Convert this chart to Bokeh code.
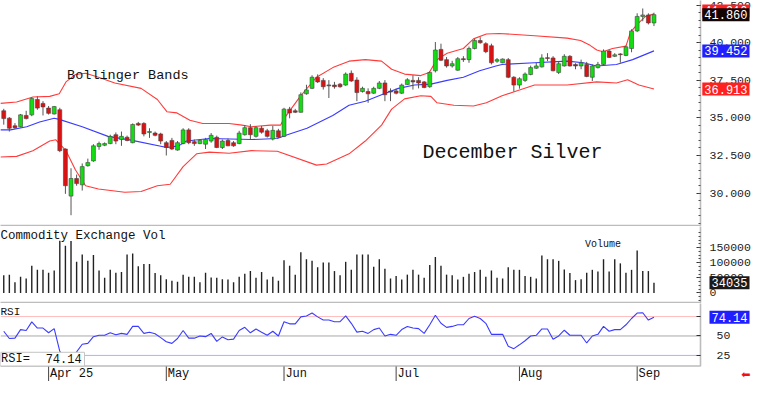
from bokeh.plotting import figure
from bokeh.models import Range1d, FixedTicker, NumeralTickFormatter, Label, Span, BoxAnnotation, ColumnDataSource
from bokeh.layouts import column
from bokeh.embed import file_html
from bokeh.resources import INLINE

# ---------------- data ----------------
opens = [35.47, 34.98, 34.47, 34.41, 35.16, 35.20, 36.22, 35.96, 35.65, 35.26,
         35.54, 32.93, 29.80, 30.97, 30.55, 31.82, 32.14, 33.10, 33.18, 33.29,
         33.88, 33.56, 33.71, 33.35, 34.63, 34.63, 34.03, 33.99, 33.93, 33.35,
         33.50, 32.86, 33.29, 34.20, 33.42, 33.29, 33.25, 33.46, 33.71, 33.03,
         33.50, 33.35, 33.29, 33.88, 34.35, 33.77, 34.31, 34.14, 33.60, 34.14,
         33.77, 35.58, 35.47, 35.37, 36.60, 36.96, 37.70, 37.49, 37.19, 37.18,
         37.24, 37.18, 37.96, 37.51, 36.75, 36.75, 36.64, 36.96, 37.32, 36.78,
         36.79, 36.64, 37.21, 37.49, 37.49, 37.39, 37.07, 38.13, 39.55, 38.87,
         38.45, 38.17, 38.93, 38.87, 39.61, 40.14, 39.93, 39.79, 38.77, 38.66,
         38.87, 37.70, 37.18, 37.49, 37.88, 38.30, 38.39, 39.00, 38.98, 38.02,
         38.45, 39.09, 38.55, 38.45, 38.55, 37.70, 38.34, 38.55, 39.44, 39.09,
         39.25, 39.15, 39.61, 40.78, 41.74, 41.84, 41.31]
highs = [35.60, 35.05, 34.65, 35.26, 35.47, 36.37, 36.43, 36.11, 35.79, 35.79,
         35.67, 32.97, 31.65, 31.23, 31.97, 32.29, 33.25, 33.42, 33.37, 33.88,
         34.03, 34.09, 33.82, 34.63, 34.73, 34.71, 34.31, 34.09, 34.01, 33.46,
         33.67, 33.46, 34.31, 34.31, 33.56, 33.56, 33.67, 33.99, 33.82, 33.56,
         33.63, 33.46, 34.14, 34.52, 34.58, 34.46, 34.46, 34.27, 34.46, 34.27,
         35.67, 35.73, 35.60, 36.69, 37.20, 37.83, 37.89, 37.64, 37.51, 37.39,
         37.32, 38.02, 38.15, 37.70, 37.07, 36.96, 37.07, 37.45, 37.51, 36.96,
         36.94, 37.28, 37.64, 37.83, 37.70, 37.45, 38.09, 40.04, 39.93, 39.04,
         38.79, 39.04, 39.10, 39.74, 40.25, 40.36, 40.03, 39.93, 38.98, 38.95,
         38.98, 37.77, 37.70, 38.02, 38.47, 38.66, 39.23, 39.30, 39.10, 38.72,
         39.23, 39.17, 38.63, 38.87, 38.72, 38.55, 38.72, 39.55, 39.52, 39.30,
         39.30, 39.81, 40.89, 41.95, 42.27, 41.95, 41.99]
lows = [34.55, 34.09, 34.27, 34.37, 34.90, 35.11, 35.54, 35.16, 35.22, 35.22,
        32.72, 29.95, 28.53, 30.49, 30.17, 31.76, 32.08, 32.88, 33.12, 33.25,
        33.25, 33.14, 33.44, 33.31, 34.46, 33.77, 33.67, 33.77, 33.25, 32.50,
        32.86, 32.82, 33.25, 33.25, 33.14, 33.25, 32.93, 33.35, 32.99, 32.93,
        33.12, 33.08, 33.25, 33.82, 33.56, 33.69, 33.95, 33.69, 33.50, 33.66,
        33.72, 34.97, 35.32, 35.35, 36.54, 36.91, 37.32, 36.88, 36.32, 36.94,
        37.00, 37.13, 37.39, 36.11, 36.68, 36.00, 36.59, 36.91, 36.11, 36.11,
        36.56, 36.59, 37.19, 36.88, 36.96, 36.97, 37.00, 38.02, 38.77, 38.34,
        38.34, 38.13, 38.72, 38.66, 39.55, 39.93, 39.30, 38.55, 38.66, 38.63,
        37.64, 36.75, 36.94, 37.39, 37.83, 38.25, 38.34, 38.77, 38.09, 37.91,
        38.41, 38.41, 38.23, 38.23, 37.70, 37.45, 38.28, 38.47, 38.98, 39.04,
        38.66, 39.10, 39.36, 40.70, 41.42, 41.21, 41.10]
closes = [34.95, 34.31, 34.35, 35.20, 34.95, 36.28, 35.65, 35.73, 35.30, 35.75,
          32.82, 30.49, 30.97, 30.63, 31.76, 32.03, 33.14, 33.29, 33.29, 33.77,
          33.46, 33.77, 33.50, 34.56, 34.52, 33.93, 34.09, 33.84, 33.46, 33.03,
          32.93, 33.35, 34.20, 33.35, 33.29, 33.50, 33.56, 33.84, 33.03, 33.46,
          33.14, 33.14, 33.99, 34.35, 33.88, 34.35, 34.05, 33.77, 34.17, 33.71,
          35.58, 35.33, 35.37, 36.54, 36.86, 37.70, 37.39, 37.07, 37.13, 37.07,
          37.07, 37.91, 37.45, 36.68, 36.96, 36.60, 36.96, 37.32, 36.54, 36.72,
          36.64, 37.18, 37.53, 37.39, 37.32, 37.02, 38.02, 39.51, 38.83, 38.45,
          38.60, 38.93, 38.87, 39.61, 40.14, 39.99, 39.40, 38.66, 38.87, 38.91,
          37.70, 37.18, 37.60, 37.91, 38.34, 38.45, 38.98, 38.95, 38.13, 38.60,
          39.09, 38.45, 38.45, 38.66, 37.75, 38.45, 38.55, 39.44, 39.02, 39.19,
          39.20, 39.72, 40.78, 41.74, 41.84, 41.31, 41.86]
volumes = [58300, 60500, 35000, 53200, 47800, 90100, 76400, 76400, 66900, 74200,
           172900, 156100, 172000, 102900, 127400, 106100, 125200, 74200, 50000, 76400,
           66900, 69100, 127400, 130600, 88200, 95600, 95600, 65900, 58300, 45500,
           40400, 37300, 60500, 53200, 53200, 35000, 66900, 51000, 50000, 45500,
           44600, 35000, 53200, 63700, 72300, 50000, 69100, 44600, 53200, 40400,
           108300, 90100, 60500, 134700, 111500, 106100, 85000, 101000, 101000, 72300,
           58300, 102900, 76400, 127400, 127400, 127400, 87000, 111500, 79600, 47800,
           56400, 44600, 60500, 76400, 60500, 50000, 92400, 118800, 90100, 60500,
           58300, 44600, 53200, 63700, 69100, 76400, 53200, 74200, 50000, 47800,
           85000, 76400, 76400, 56400, 53200, 47800, 124200, 111500, 111500, 106100,
           77400, 65900, 42400, 45500, 66900, 76400, 71000, 111500, 71000, 111500,
           97800, 66900, 76400, 140100, 72300, 72300, 34035]
rsi = [56.1, 46.7, 47.2, 58.2, 57.0, 68.1, 60.2, 60.2, 54.1, 59.5,
       30.3, 18.4, 21.4, 29.5, 39.3, 40.5, 49.1, 50.9, 50.9, 54.1,
       51.6, 53.3, 52.1, 62.3, 62.3, 53.3, 54.9, 52.8, 47.9, 42.6,
       40.5, 46.7, 57.0, 47.2, 47.2, 50.0, 49.1, 53.3, 43.0, 48.8,
       45.1, 45.9, 57.0, 61.1, 54.1, 59.0, 54.9, 50.9, 56.1, 50.0,
       68.4, 65.6, 65.6, 74.6, 75.8, 79.5, 74.6, 70.5, 70.5, 68.4,
       68.4, 75.8, 66.3, 54.9, 56.1, 53.3, 58.2, 60.2, 50.0, 52.1,
       50.9, 58.2, 62.3, 60.2, 59.5, 53.3, 64.4, 76.7, 66.3, 61.1,
       62.3, 64.4, 64.4, 72.5, 75.4, 72.5, 66.3, 52.1, 52.1, 52.1,
       36.9, 33.7, 38.6, 43.9, 50.0, 50.9, 59.0, 59.0, 45.9, 50.0,
       57.4, 50.9, 50.9, 50.9, 41.0, 50.0, 52.1, 62.3, 56.1, 58.2,
       58.2, 64.4, 72.5, 79.5, 79.9, 70.5, 74.14]

upper_x = [-0.6, 2.3, 5.2, 8.2, 9.9, 11.1, 12.8, 14.6, 16.9, 19.8,
           24.5, 27.4, 29.1, 30.9, 33.2, 35.5, 40.2, 42.5, 44.2, 47.6,
           49.4, 50.0, 52.9, 55.8, 58.7, 61.6, 64.5, 67.4, 69.2, 71.5,
           74.4, 75.9, 77.3, 79.1, 82.0, 83.8, 86.1, 88.4, 94.7, 100.5,
           102.9, 104.6, 105.8, 106.9, 108.6, 111.0, 111.8, 113.0, 114.5, 116.0]
upper = [35.96, 36.05, 36.39, 36.43, 36.60, 37.39, 37.88, 37.96, 37.70, 37.32,
         36.96, 36.22, 35.41, 35.33, 34.84, 34.63, 34.63, 34.52, 34.41, 34.52,
         34.52, 34.95, 36.43, 37.70, 38.34, 38.77, 38.87, 38.77, 38.23, 37.91,
         37.81, 38.02, 38.87, 39.30, 39.61, 40.25, 40.57, 40.61, 40.46, 40.30,
         40.14, 39.82, 39.51, 39.40, 39.61, 39.77, 40.68, 41.21, 41.74, 41.91]
mid_x = [-0.6, 1.2, 4.1, 6.4, 9.0, 9.9, 14.0, 18.6, 22.7, 29.1,
         31.2, 32.6, 36.7, 44.2, 48.8, 50.6, 54.1, 58.7, 61.6, 64.5,
         67.4, 70.4, 73.3, 76.2, 79.1, 82.0, 84.9, 87.8, 88.9, 94.7,
         100.5, 103.4, 105.8, 109.3, 112.2, 116.0]
mid = [34.20, 34.20, 34.41, 34.73, 34.98, 34.90, 34.41, 33.77, 33.52, 33.03,
       33.14, 33.46, 33.63, 33.56, 33.63, 33.88, 34.31, 35.16, 35.84, 36.11,
       36.54, 36.96, 37.18, 37.24, 37.49, 37.70, 38.13, 38.45, 38.55, 38.66,
       38.77, 38.66, 38.45, 38.55, 38.87, 39.452]
lower_x = [-0.6, 2.3, 5.2, 8.2, 9.3, 11.1, 12.8, 14.6, 16.9, 21.6,
           24.5, 27.4, 29.7, 32.0, 34.4, 36.7, 40.2, 44.2, 48.8, 55.8,
           57.6, 61.6, 64.5, 67.4, 69.2, 71.5, 74.4, 76.2, 77.3, 80.3,
           83.8, 86.1, 88.9, 91.2, 94.7, 100.5, 105.8, 109.3, 111.3, 113.3, 116.0]
lower = [32.40, 32.44, 32.82, 33.46, 33.54, 32.82, 31.54, 30.49, 30.27, 30.06,
         30.11, 30.49, 30.59, 31.76, 32.61, 32.72, 32.65, 32.82, 32.78, 31.86,
         31.93, 32.61, 33.46, 34.52, 35.58, 36.26, 36.47, 36.43, 36.00, 35.84,
         35.79, 36.00, 36.47, 36.75, 37.18, 37.18, 37.39, 37.32, 37.53, 37.18, 36.913]

month_idx = [8, 29, 50, 70, 92, 113]
month_labels = ["Apr 25", "May", "Jun", "Jul", "Aug", "Sep"]
price_ticks = [30.0, 32.5, 35.0, 37.5, 40.0, 42.5]
vol_ticks = [0, 50000, 100000, 150000]
rsi_ticks = [25, 50, 75]

# ---------------- layout / styling ----------------
FONT = "Liberation Mono"
CANVAS_W = 752          # whole figure width (frame covers it)
DATA_W = 700            # width of the plotting area left of the axis line
X0 = -0.58
AXIS_X = 124.3          # x position of the right axis line
X1 = X0 + (AXIS_X - X0) * CANVAS_W / DATA_W
GREEN = "#11dd11"
RED = "#dd1111"
BAND_RED = "#ff3b3b"
BAND_BLUE = "#3b3bff"
TXT = "#111111"

P_LO, P_HI, P_H = 27.78, 42.80, 226
V_LO, V_HI, V_H = -35000, 219800, 77
R_LO, R_HI, R_H = 10.7, 91.8, 63
DATE_H = 15
R_PX = (R_HI - R_LO) / R_H
R_BOTTOM = R_LO - DATE_H * R_PX      # the date row lives inside the RSI frame

idx = list(range(len(closes)))
x_range = Range1d(X0, X1)


def make_fig(frame_h, lo, hi, box_bottom):
    p = figure(frame_width=CANVAS_W, frame_height=frame_h, x_range=x_range,
               y_range=Range1d(lo, hi), output_backend="svg", toolbar_location=None,
               x_axis_location=None, y_axis_location="right",
               min_border_left=0, min_border_right=0, min_border_top=0, min_border_bottom=0)
    p.xgrid.visible = False
    p.ygrid.visible = False
    p.outline_line_color = None
    p.background_fill_color = "white"
    p.border_fill_color = "white"
    ax = p.yaxis[0]
    ax.fixed_location = AXIS_X
    ax.axis_line_color = None
    ax.major_tick_in = 4
    ax.major_tick_out = 0
    ax.minor_tick_in = 2
    ax.minor_tick_out = 0
    ax.major_tick_line_color = "#333333"
    ax.minor_tick_line_color = "#555555"
    ax.major_label_text_font = FONT
    ax.major_label_text_font_size = "11.5px"
    ax.major_label_text_color = "#222222"
    # panel frame: bottom separator + right axis line (top/left edges kept outside the view)
    px = (hi - lo) / frame_h
    p.add_layout(BoxAnnotation(left=X0 - 5, right=AXIS_X, top=hi + 10 * px, bottom=box_bottom,
                               fill_alpha=0, line_color="#222222", line_width=1.6, level="guide"))
    return p


def tag(p, y, text, bg):
    p.add_layout(Label(x=CANVAS_W - 3, y=y, x_units="screen", y_units="data", text=text,
                       text_align="right", text_baseline="middle", text_font=FONT,
                       text_font_size="12px", text_color="white",
                       background_fill_color=bg, background_fill_alpha=1.0, padding=2))


# ---------------- price panel ----------------
p1 = make_fig(P_H, P_LO, P_HI, P_LO + 1 * (P_HI - P_LO) / P_H)
ax = p1.yaxis[0]
ax.ticker = FixedTicker(ticks=price_ticks, minor_ticks=[28 + 0.5 * k for k in range(30)])
ax.formatter = NumeralTickFormatter(format="0.000")
ax.major_label_standoff = 9

src = ColumnDataSource(dict(
    x=idx, h=highs, l=lows,
    top=[max(o, c) for o, c in zip(opens, closes)],
    bottom=[min(o, c) for o, c in zip(opens, closes)],
    color=[GREEN if c >= o else RED for o, c in zip(opens, closes)],
))
p1.line(upper_x, upper, line_color=BAND_RED, line_width=1.1)
p1.line(lower_x, lower, line_color=BAND_RED, line_width=1.1)
p1.line(mid_x, mid, line_color=BAND_BLUE, line_width=1.1)
p1.segment(x0="x", y0="h", x1="x", y1="l", source=src, line_color="#555555", line_width=1)
p1.vbar(x="x", width=0.7, top="top", bottom="bottom", fill_color="color",
        line_color="#444444", line_width=0.6, source=src)

p1.add_layout(Label(x=11.3, y=37.81, text="Bollinger Bands", text_font=FONT,
                    text_font_size="13.5px", text_color=TXT, text_baseline="alphabetic"))
p1.add_layout(Label(x=74.7, y=32.73, text="December Silver", text_font=FONT,
                    text_font_size="20px", text_color=TXT, text_baseline="alphabetic"))

tag(p1, upper[-1] + 0.2, f"{upper[-1]:.3f}", "#ff2020")
tag(p1, closes[-1], f"{closes[-1]:.3f}", "#140505")
tag(p1, mid[-1], f"{mid[-1]:.3f}", "#1f1fff")
tag(p1, lower[-1], f"{lower[-1]:.3f}", "#ff2020")

# ---------------- volume panel ----------------
p2 = make_fig(V_H, V_LO, V_HI, V_LO + 1 * (V_HI - V_LO) / V_H)
ax = p2.yaxis[0]
ax.ticker = FixedTicker(ticks=vol_ticks, minor_ticks=[-25000 + 12500 * k for k in range(19)])
ax.formatter = NumeralTickFormatter(format="0")
ax.major_label_standoff = 9

vsrc = ColumnDataSource(dict(x=idx, v=volumes))
p2.segment(x0="x", y0=0, x1="x", y1="v", source=vsrc, line_color="#222222", line_width=1.4)
p2.add_layout(Label(x=X0, y=213000, text="Commodity Exchange Vol", text_font=FONT,
                    text_font_size="12.5px", text_color=TXT, text_baseline="top"))
p2.add_layout(Label(x=103.7, y=159000, text="Volume", text_font=FONT,
                    text_font_size="10px", text_color=TXT, text_baseline="alphabetic"))
tag(p2, volumes[-1], str(volumes[-1]), "#1a1a1a")

# ---------------- RSI panel (with the date row below it) ----------------
p3 = make_fig(R_H + DATE_H, R_BOTTOM, R_HI, R_LO + 0.5 * R_PX)
ax = p3.yaxis[0]
ax.ticker = FixedTicker(ticks=rsi_ticks, minor_ticks=[])
ax.major_label_standoff = 16

p3.add_layout(Span(location=75, dimension="width", line_color="#ffbcbc", line_width=1, level="underlay"))
p3.add_layout(Span(location=50, dimension="width", line_color="#a8a8a8", line_width=1, level="underlay"))
p3.add_layout(Span(location=25, dimension="width", line_color="#a9b0ff", line_width=1, level="underlay"))
p3.add_layout(BoxAnnotation(left=AXIS_X, fill_color="white", fill_alpha=1.0, line_alpha=0, level="underlay"))
p3.line(idx, rsi, line_color=BAND_BLUE, line_width=1.1)

p3.add_layout(BoxAnnotation(right=14.4, top=29.0, bottom=R_LO + 0.5 * R_PX, fill_color="white",
                            fill_alpha=1.0, line_color="#c4c4c4", line_alpha=1.0, line_width=1))
p3.add_layout(Label(x=X0 + 0.1, y=20.5, text="RSI=", text_font=FONT, text_font_size="12px",
                    text_color=TXT, text_baseline="middle"))
p3.add_layout(Label(x=13.9, y=20.5, text=f"{rsi[-1]:.2f}", text_font=FONT, text_font_size="12px",
                    text_color=TXT, text_baseline="middle", text_align="right"))
p3.add_layout(Label(x=X0, y=88.5, text="RSI", text_font=FONT, text_font_size="11px",
                    text_color=TXT, text_baseline="top"))
tag(p3, rsi[-1], f"{rsi[-1]:.2f}", "#1f1fff")

# month separators and labels in the date row
date_mid = R_LO - 0.5 * DATE_H * R_PX
p3.segment(x0=month_idx, y0=[R_LO] * len(month_idx), x1=month_idx,
           y1=[R_BOTTOM] * len(month_idx), line_color="#444444", line_width=1)
for m, lab in zip(month_idx, month_labels):
    p3.add_layout(Label(x=m + 0.25, y=date_mid, text=lab, text_font=FONT, text_font_size="12px",
                        text_color=TXT, text_baseline="middle", text_align="left"))

p3.add_layout(Label(x=CANVAS_W - 2, y=date_mid, x_units="screen", text="\u2b05",
                    text_font="DejaVu Sans", text_font_size="11px", text_color="#ee1111",
                    text_baseline="middle", text_align="right"))

layout = column(p1, p2, p3)
open("out.html", "w").write(file_html(layout, INLINE))
